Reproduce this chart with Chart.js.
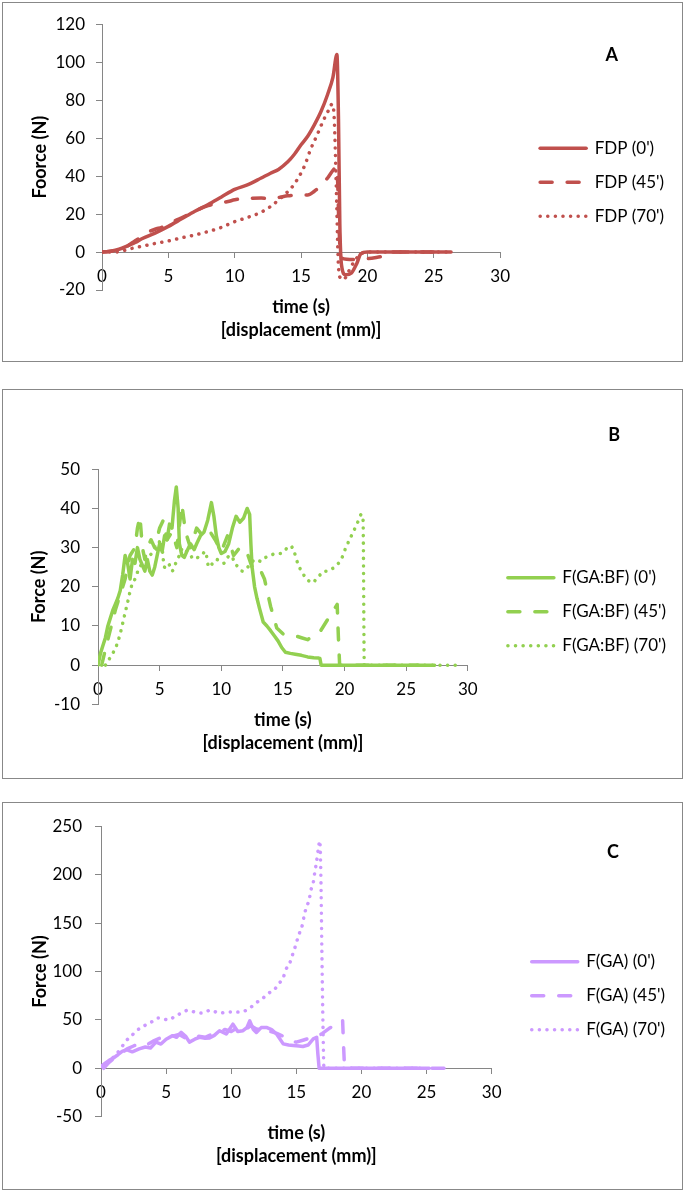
<!DOCTYPE html>
<html>
<head>
<meta charset="utf-8">
<script src="https://cdn.jsdelivr.net/npm/chart.js@4.4.1/dist/chart.umd.min.js"></script>
<style>
html,body{margin:0;padding:0;background:#fff;}
body{width:688px;height:1193px;position:relative;overflow:hidden;}
.panel{position:absolute;left:2px;width:681px;box-sizing:border-box;border:1px solid #888;background:#fff;}
.panel canvas{display:block;}
</style>
</head>
<body>
<div class="panel" style="top:2px;height:360px"><canvas id="cA" width="679" height="358"></canvas></div>
<div class="panel" style="top:389px;height:390px"><canvas id="cB" width="679" height="388"></canvas></div>
<div class="panel" style="top:802px;height:388px"><canvas id="cC" width="679" height="386"></canvas></div>
<script>
// ---------- Panel A : FDP ----------
const labelsA = ["FDP (0')", "FDP (45')", "FDP (70')"];
const A0_t = [0, 0.5, 1, 1.5, 2, 2.5, 3, 4, 5, 6, 7, 8, 9, 10, 11, 12, 12.7, 13.3, 14, 14.5, 15, 15.5, 16, 16.5, 17, 17.4, 17.7, 17.82, 17.92, 18.05, 18.35, 18.8, 19.2, 19.5, 20, 23, 26.3];
const A0_f = [0, 0.3, 1, 2, 3.5, 5, 7, 10, 13.5, 17.5, 21.5, 25, 29, 33, 35.5, 39, 41.5, 43.5, 47.5, 51.5, 56.5, 61, 67, 74, 83, 92, 104, 70, 15, -7, -12, -11, -6, -1, 0, 0, 0];
const A45_t = [0, 1, 2, 2.5, 3, 3.5, 4, 4.5, 5, 5.5, 6, 7, 8, 9, 9.5, 10, 11, 12, 12.5, 13, 13.5, 14, 15, 15.5, 16, 16.5, 17, 17.4, 17.7, 17.85, 18, 19, 20, 21, 21.5, 22, 26];
const A45_f = [0, 0.8, 3.5, 6, 8, 10.5, 12, 13, 14.5, 16.5, 18, 21.5, 24.5, 26, 26.6, 27.5, 28.3, 28.4, 28.2, 28.3, 29, 29.6, 30, 30, 32, 35, 39, 43, 45, 15, -3, -4, -3.5, -2.5, -2, 0, 0];
const A70_t = [0, 1, 1.5, 2, 3, 4, 5, 6, 7, 8, 9, 10, 11, 12, 12.7, 13.6, 14.3, 14.85, 15.3, 15.7, 16.2, 16.7, 17.1, 17.35, 17.5, 17.65, 17.8, 17.95, 18.2, 18.6, 19, 19.5, 20, 26];
const A70_f = [0, 0, 0.5, 1.5, 3, 4.5, 5.8, 7.5, 9, 10.8, 13, 16, 18.3, 21, 24, 29.3, 34, 39.8, 46, 53.8, 61.5, 69.6, 75, 78, 70, 35, -5, -13.5, -14.5, -10, -5, -1, 0, 0];

// ---------- Panel B : F(GA:BF) ----------
const labelsB = ["F(GA:BF) (0')", "F(GA:BF) (45')", "F(GA:BF) (70')"];
const B0_t = [0, 0.2, 0.4, 0.6, 0.8, 1.0, 1.2, 1.4, 1.6, 1.8, 2.0, 2.2, 2.4, 2.6, 2.8, 3.0, 3.2, 3.4, 3.6, 3.8, 4.0, 4.2, 4.4, 4.6, 4.8, 5.0, 5.2, 5.4, 5.6, 5.8, 6.0, 6.2, 6.35, 6.5, 6.6, 6.8, 7.0, 7.2, 7.5, 7.8, 8.0, 8.3, 8.6, 8.9, 9.2, 9.4, 9.6, 9.8, 10.0, 10.3, 10.6, 10.9, 11.2, 11.5, 11.8, 12.1, 12.3, 12.4, 12.5, 12.7, 12.9, 13.1, 13.4, 13.7, 14.0, 14.3, 14.6, 14.9, 15.2, 15.6, 16.0, 16.5, 17.0, 17.5, 17.9, 18.0, 18.1, 20, 22, 24, 27.3];
const B0_f = [0, 3, 5, 7, 10, 12, 14, 15.5, 17, 19, 23, 28, 26, 22, 27, 26, 30, 27, 25.5, 24, 27, 24, 23, 25, 28, 31, 29, 33, 32, 36, 35, 42, 45.5, 40, 31, 28, 27.5, 29, 31, 29.5, 31, 33, 34, 37, 41.5, 38, 33, 30, 28.5, 29, 31, 35, 38, 36.5, 37.5, 40, 38.5, 31, 25, 20, 17, 14.5, 11, 10, 8.8, 7.5, 6.2, 4.5, 3.3, 3.0, 2.8, 2.5, 2.1, 1.9, 1.8, 1.7, 0, 0, 0, 0, 0];
const B45_t = [0.3, 0.6, 1.0, 1.4, 1.8, 2.2, 2.6, 3.0, 3.2, 3.4, 3.6, 3.8, 4.0, 4.3, 4.6, 5.0, 5.3, 5.6, 6.0, 6.4, 6.8, 7.1, 7.5, 8.0, 8.5, 9.0, 9.5, 10.0, 10.5, 11.0, 11.5, 12.0, 12.5, 13.0, 13.5, 14.0, 14.5, 15.0, 15.5, 16.0, 16.5, 17.0, 17.5, 18.0, 18.5, 19.0, 19.4, 19.5, 19.6, 22, 26];
const B45_f = [0, 4, 9, 14, 18, 22, 28, 30, 35, 38, 30, 27, 30, 32, 30, 35, 37, 32, 34, 30, 41, 34, 30, 35, 33, 34.5, 32, 29, 33, 28, 30, 29.5, 25, 25.5, 22, 15, 9.5, 8, 7.5, 7.5, 7, 6.5, 7.5, 8.5, 11, 13.5, 15.5, 7, 0, 0, 0];
const B70_t = [0.6, 0.9, 1.2, 1.5, 1.8, 2.1, 2.4, 2.7, 3.0, 3.3, 3.6, 3.9, 4.2, 4.5, 4.8, 5.1, 5.4, 5.7, 6.0, 6.3, 6.6, 6.9, 7.2, 7.5, 7.8, 8.1, 8.4, 8.7, 9.0, 9.3, 9.6, 9.9, 10.2, 10.5, 10.8, 11.1, 11.4, 11.7, 12.0, 12.4, 12.8, 13.2, 13.6, 14.0, 14.4, 14.8, 15.2, 15.6, 15.9, 16.2, 16.5, 16.8, 17.1, 17.4, 17.7, 18.0, 18.3, 18.6, 18.9, 19.2, 19.5, 19.8, 20.1, 20.4, 20.7, 21.0, 21.2, 21.35, 21.5, 21.6, 25, 29.5];
const B70_f = [0, 1.5, 3, 5, 8, 12, 16, 20, 22, 24.5, 26, 27, 28, 29, 30, 32, 25, 26, 24, 26, 28, 30, 29, 28, 27, 27.5, 28, 29, 25, 26, 27, 26.5, 26, 27.5, 28, 26, 25, 24, 24.5, 26, 27, 26.5, 27.5, 28, 28.5, 28.5, 29.5, 30.5, 29, 26, 24, 22.5, 21.5, 21, 22, 23, 24, 24, 24.5, 25, 26, 27.5, 30, 32, 34, 36, 37.5, 38.5, 37, 0, 0, 0];

// ---------- Panel C : F(GA) ----------
const labelsC = ["F(GA) (0')", "F(GA) (45')", "F(GA) (70')"];
const C0_t = [0, 0.3, 0.6, 1.0, 1.3, 1.65, 2.0, 2.4, 2.93, 3.4, 3.8, 4.22, 4.6, 5.0, 5.5, 5.8, 6.15, 6.5, 6.79, 7.2, 7.56, 8.0, 8.33, 8.7, 9.1, 9.62, 10.13, 10.5, 10.9, 11.2, 11.42, 11.7, 11.93, 12.3, 12.7, 13.1, 13.48, 13.99, 14.4, 14.77, 15.2, 15.5, 15.9, 16.3, 16.56, 16.65, 16.75, 20, 25.2];
const C0_f = [2, 5, 8, 11, 14, 17.7, 19, 17, 20.1, 22, 21, 27, 25, 30, 33.7, 32, 37.1, 33, 27, 30, 32, 31, 31.3, 34, 38.8, 35.4, 45.6, 38, 38.8, 42, 48.9, 40, 37, 42, 42.2, 40, 35.4, 25.2, 24, 23.5, 23, 22.5, 24, 30.3, 32, 15, 0, 0, 0];
const C45_t = [0.2, 0.6, 1.0, 1.5, 2.0, 2.5, 3.0, 3.5, 4.0, 4.5, 5.0, 5.5, 6.0, 6.5, 7.0, 7.5, 8.0, 8.5, 9.0, 9.5, 10.0, 10.5, 11.0, 11.5, 12.0, 12.5, 13.0, 13.5, 14.0, 14.5, 15.0, 15.5, 16.0, 16.5, 17.0, 17.5, 18.0, 18.3, 18.55, 18.62, 18.7, 22, 26.5];
const C45_f = [0, 6, 10, 15, 20, 23, 26, 24, 28, 31, 30, 33, 35, 31, 30, 33, 32, 35, 36, 40, 38, 42, 39, 44, 40, 43, 38, 36, 33, 28, 27, 29, 31, 32, 36, 41, 45, 48, 50, 25, 0, 0, 0];
const C70_t = [0, 0.5, 1.0, 1.5, 1.9, 2.3, 2.75, 3.2, 3.9, 4.4, 5.2, 5.7, 6.2, 6.7, 7.2, 7.8, 8.4, 9.1, 9.8, 10.4, 11.0, 11.5, 11.9, 12.4, 12.8, 13.3, 13.6, 14.0, 14.2, 14.5, 14.7, 14.9, 15.1, 15.3, 15.5, 15.6, 15.8, 16.0, 16.1, 16.3, 16.4, 16.5, 16.6, 16.7, 16.8, 16.88, 16.96, 17.05, 17.12, 25];
const C70_f = [2, 6, 12, 20, 28, 33, 39, 43, 48, 52, 50, 54, 57, 60, 58, 57, 60, 57, 58, 58, 59, 63, 67.5, 72, 77, 81, 86.5, 94, 102, 109, 117, 125, 134, 142, 150, 158, 167, 175, 183, 192, 201, 209, 218, 228, 235, 200, 120, 40, 0, 0];

const xTickValues = [0, 5, 10, 15, 20, 25, 30];
const xTitle = ['time (s)', '[displacement (mm)]'];

const FONT = 'Lato, "Open Sans", "Liberation Sans", sans-serif';
const AXIS = '#868686';
const DASHES = [[], [12, 15], [0.1, 7.5]];
const CANVAS_W = 679;
const GAP_R = 23, LEG_PAD = 17, LEG_BOX = 46, LEG_FONT = 17;
Chart.defaults.font.family = FONT;
Chart.defaults.color = '#000';

const mctx = document.createElement('canvas').getContext('2d');
function legendNaturalWidth(labels) {
  mctx.font = LEG_FONT + 'px ' + FONT;
  const tw = Math.max.apply(null, labels.map(l => mctx.measureText(l).width));
  return LEG_PAD + LEG_BOX + LEG_FONT / 2 + tw + 10;
}

function pts(t, f) { return t.map((x, i) => ({ x: x, y: f[i] })); }

const letterPlugin = {
  id: 'panelLetter',
  afterDraw(chart, args, opts) {
    const ctx = chart.ctx;
    ctx.save();
    ctx.font = 'bold 18px ' + FONT;
    ctx.fillStyle = '#000';
    ctx.textAlign = 'center';
    ctx.textBaseline = 'middle';
    ctx.fillText(opts.text, opts.x, opts.y);
    ctx.restore();
  }
};

function build(id, p) {
  const labels = p.series.map(s => s.label);
  const legW = Math.ceil(legendNaturalWidth(labels)) + 1;
  const padR = CANVAS_W - p.chartRight - GAP_R - legW;
  const datasets = p.series.map((s, i) => ({
    label: s.label,
    data: pts(s.t, s.f),
    borderColor: p.color,
    backgroundColor: p.color,
    borderWidth: 3.5,
    borderDash: DASHES[i],
    borderCapStyle: 'round',
    borderJoinStyle: 'round',
    pointRadius: 0,
    pointHoverRadius: 0,
    fill: false,
    tension: 0,
    cubicInterpolationMode: p.smooth[i] ? 'monotone' : 'default',
    xAxisID: 'x',
    yAxisID: 'y',
    order: 3 - i
  }));
  const scales = {
    x: {
      type: 'linear', position: { y: 0 }, min: 0, max: 30,
      afterBuildTicks: s => { s.ticks = xTickValues.map(v => ({ value: v })); },
      ticks: { font: { size: 17 }, color: '#000', padding: 9, maxRotation: 0, autoSkip: false },
      grid: { display: true, drawOnChartArea: false, drawTicks: true, tickLength: 5, color: AXIS },
      border: { display: true, color: AXIS, width: 1 }
    },
    y: {
      type: 'linear', position: 'left', min: p.yMin, max: p.yMax,
      ticks: { stepSize: p.yStep, font: { size: 17 }, color: '#000', padding: p.yPad },
      grid: { display: true, drawOnChartArea: false, drawTicks: true, tickLength: 6, color: AXIS },
      border: { display: true, color: AXIS, width: 1 },
      title: { display: true, text: p.yTitle, color: '#000', font: { size: 18, weight: 'bold' }, padding: { top: p.yTitlePad, bottom: 0 } },
      afterFit: s => { s.width = p.yW; }
    },
    gapR: {
      type: 'linear', position: 'right', display: true,
      ticks: { display: false }, grid: { display: false }, border: { display: false },
      afterFit: s => { s.width = GAP_R; }
    }
  };
  if (p.gapT > 0) {
    scales.gapT = {
      type: 'linear', position: 'top', display: true,
      ticks: { display: false }, grid: { display: false }, border: { display: false },
      afterFit: s => { s.height = p.gapT; }
    };
  }
  return new Chart(document.getElementById(id), {
    type: 'line',
    data: { datasets: datasets },
    plugins: [letterPlugin],
    options: {
      responsive: false, animation: false, devicePixelRatio: 1, events: [],
      layout: { padding: { left: 0, right: padR, top: p.padT, bottom: 0 } },
      scales: scales,
      plugins: {
        tooltip: { enabled: false },
        panelLetter: { text: p.letter, x: p.letterX, y: p.letterY },
        legend: {
          display: true, position: 'right', align: 'start', fullSize: true, maxWidth: legW + 2,
          title: { display: true, text: '', padding: { top: 0, bottom: p.legGap }, font: { size: 18 } },
          labels: {
            usePointStyle: true, pointStyleWidth: LEG_BOX, boxHeight: LEG_FONT, padding: LEG_PAD,
            font: { size: LEG_FONT }, color: '#000',
            generateLabels: chart => chart.data.datasets.map((ds, i) => ({
              text: ds.label, fillStyle: 'rgba(0,0,0,0)', strokeStyle: ds.borderColor,
              lineWidth: ds.borderWidth, lineDash: ds.borderDash, lineCap: 'round', lineJoin: 'round',
              pointStyle: 'line', hidden: false, datasetIndex: i, fontColor: '#000'
            }))
          }
        },
        title: {
          display: true, position: 'bottom', fullSize: false, align: 'center', text: xTitle, color: '#000',
          font: { size: 18, weight: 'bold', lineHeight: '23px' },
          padding: { top: p.tTop, bottom: p.tBot }
        }
      }
    }
  });
}

build('cA', {
  color: '#C0504D', letter: 'A', letterX: 608.7, letterY: 52, yTitle: 'Foorce (N)',
  yMin: -20, yMax: 120, yStep: 20, chartRight: 496,
  yW: 99, yPad: 11, yTitlePad: 26, padT: 21, gapT: 0, legGap: 77.2,
  tTop: 5.2, tBot: 19.8, smooth: [true, true, true],
  series: [
    { label: labelsA[0], t: A0_t, f: A0_f },
    { label: labelsA[1], t: A45_t, f: A45_f },
    { label: labelsA[2], t: A70_t, f: A70_f }
  ]
});
build('cB', {
  color: '#92D050', letter: 'B', letterX: 611.3, letterY: 45, yTitle: 'Force (N)',
  yMin: -10, yMax: 50, yStep: 10, chartRight: 463,
  yW: 95, yPad: 12, yTitlePad: 25, padT: 20, gapT: 59.3, legGap: 120.6,
  tTop: 4.2, tBot: 23.5, smooth: [false, false, true],
  series: [
    { label: labelsB[0], t: B0_t, f: B0_f },
    { label: labelsB[1], t: B45_t, f: B45_f },
    { label: labelsB[2], t: B70_t, f: B70_f }
  ]
});
build('cC', {
  color: '#CC99FF', letter: 'C', letterX: 610, letterY: 48.7, yTitle: 'Force (N)',
  yMin: -50, yMax: 250, yStep: 50, chartRight: 487,
  yW: 98, yPad: 13, yTitlePad: 26, padT: 20.3, gapT: 0, legGap: 91.3,
  tTop: 4.8, tBot: 21.5, smooth: [false, false, true],
  series: [
    { label: labelsC[0], t: C0_t, f: C0_f },
    { label: labelsC[1], t: C45_t, f: C45_f },
    { label: labelsC[2], t: C70_t, f: C70_f }
  ]
});
</script>
</body>
</html>
